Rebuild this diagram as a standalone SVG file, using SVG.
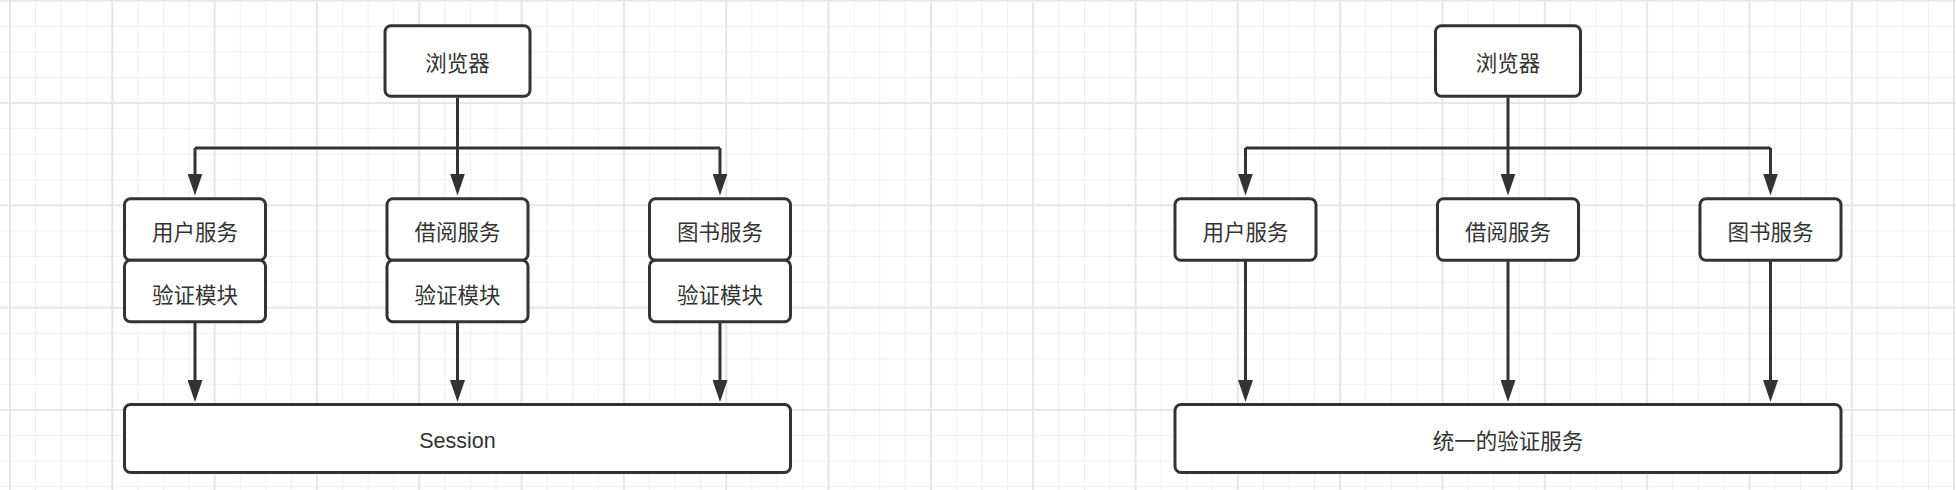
<svg xmlns="http://www.w3.org/2000/svg" width="1956" height="490" viewBox="0 0 1956 490">
  <style>
    .box { fill: #ffffff; stroke: #333333; stroke-width: 3; }
    .cjk { font-family: "Noto Sans CJK SC", "Noto Sans", sans-serif; font-size: 21.5px; fill: #333333; text-anchor: middle; dominant-baseline: central; }
    .lat { font-family: "Liberation Sans", Arial, sans-serif; font-size: 21.5px; fill: #333333; text-anchor: middle; }
    .edge { fill: none; stroke: #333333; stroke-width: 3; marker-end: url(#arrow); }
    .link { fill: none; stroke: #333333; stroke-width: 3; }
  </style>
  <defs>
    <pattern id="minor" patternUnits="userSpaceOnUse" x="9.5" y="0.2" width="25.58" height="25.58">
      <path d="M0.5 0V25.58M0 0.5H25.58" stroke="#f0f0f0" stroke-width="1" fill="none"/>
    </pattern>
    <pattern id="major" patternUnits="userSpaceOnUse" x="9" y="-0.3" width="102.32" height="102.32">
      <path d="M1 0V102.32M0 1H102.32" stroke="#e6e6e6" stroke-width="2" fill="none"/>
    </pattern>
    <marker id="arrow" markerUnits="userSpaceOnUse" viewBox="0 -7.5 22 15" markerWidth="22" markerHeight="15" refX="1" refY="0" orient="auto">
      <path d="M0,-7.5 L22,0 L0,7.5 Z" fill="#333333"/>
    </marker>
  </defs>

  <g id="background">
    <rect x="0" y="0" width="1956" height="490" fill="#ffffff"/>
    <rect x="0" y="0" width="1956" height="490" fill="url(#minor)"/>
    <rect x="0" y="0" width="1956" height="490" fill="url(#major)"/>
  </g>

  <g id="connectors">
    <!-- left diagram -->
    <path class="link" d="M457.5 97.5V148M195 148H720"/>
    <path class="edge" d="M195 148V174.5"/>
    <path class="edge" d="M457.5 148V174.5"/>
    <path class="edge" d="M720 148V174.5"/>
    <path class="edge" d="M195 323V381"/>
    <path class="edge" d="M457.5 323V381"/>
    <path class="edge" d="M720 323V381"/>
    <!-- right diagram -->
    <path class="link" d="M1508 97.5V148M1245.5 148H1770.5"/>
    <path class="edge" d="M1245.5 148V174.5"/>
    <path class="edge" d="M1508 148V174.5"/>
    <path class="edge" d="M1770.5 148V174.5"/>
    <path class="edge" d="M1245.5 260V381"/>
    <path class="edge" d="M1508 260V381"/>
    <path class="edge" d="M1770.5 260V381"/>
  </g>

  <!-- left diagram nodes -->
  <g id="browser-left">
    <rect class="box" x="385" y="25.8" width="145" height="70.4" rx="6"/>
    <text class="cjk" x="457.5" y="61.5">浏览器</text>
  </g>
  <g id="user-service-left">
    <rect class="box" x="124.5" y="198.8" width="141" height="61.4" rx="6"/>
    <text class="cjk" x="195" y="230.5">用户服务</text>
  </g>
  <g id="user-auth-left">
    <rect class="box" x="124.5" y="260.2" width="141" height="61.6" rx="6"/>
    <text class="cjk" x="195" y="293">验证模块</text>
  </g>
  <g id="borrow-service-left">
    <rect class="box" x="387" y="198.8" width="141" height="61.4" rx="6"/>
    <text class="cjk" x="457.5" y="230.5">借阅服务</text>
  </g>
  <g id="borrow-auth-left">
    <rect class="box" x="387" y="260.2" width="141" height="61.6" rx="6"/>
    <text class="cjk" x="457.5" y="293">验证模块</text>
  </g>
  <g id="book-service-left">
    <rect class="box" x="649.5" y="198.8" width="141" height="61.4" rx="6"/>
    <text class="cjk" x="720" y="230.5">图书服务</text>
  </g>
  <g id="book-auth-left">
    <rect class="box" x="649.5" y="260.2" width="141" height="61.6" rx="6"/>
    <text class="cjk" x="720" y="293">验证模块</text>
  </g>
  <g id="session">
    <rect class="box" x="124.5" y="404.5" width="666" height="68" rx="6"/>
    <text class="lat" x="457.5" y="448">Session</text>
  </g>

  <!-- right diagram nodes -->
  <g id="browser-right">
    <rect class="box" x="1435.5" y="25.8" width="145" height="70.4" rx="6"/>
    <text class="cjk" x="1508" y="61.5">浏览器</text>
  </g>
  <g id="user-service-right">
    <rect class="box" x="1175" y="198.8" width="141" height="61.4" rx="6"/>
    <text class="cjk" x="1245.5" y="230.5">用户服务</text>
  </g>
  <g id="borrow-service-right">
    <rect class="box" x="1437.5" y="198.8" width="141" height="61.4" rx="6"/>
    <text class="cjk" x="1508" y="230.5">借阅服务</text>
  </g>
  <g id="book-service-right">
    <rect class="box" x="1700" y="198.8" width="141" height="61.4" rx="6"/>
    <text class="cjk" x="1770.5" y="230.5">图书服务</text>
  </g>
  <g id="unified-auth">
    <rect class="box" x="1175" y="404.5" width="666" height="68" rx="6"/>
    <text class="cjk" x="1508" y="439.5">统一的验证服务</text>
  </g>
</svg>
